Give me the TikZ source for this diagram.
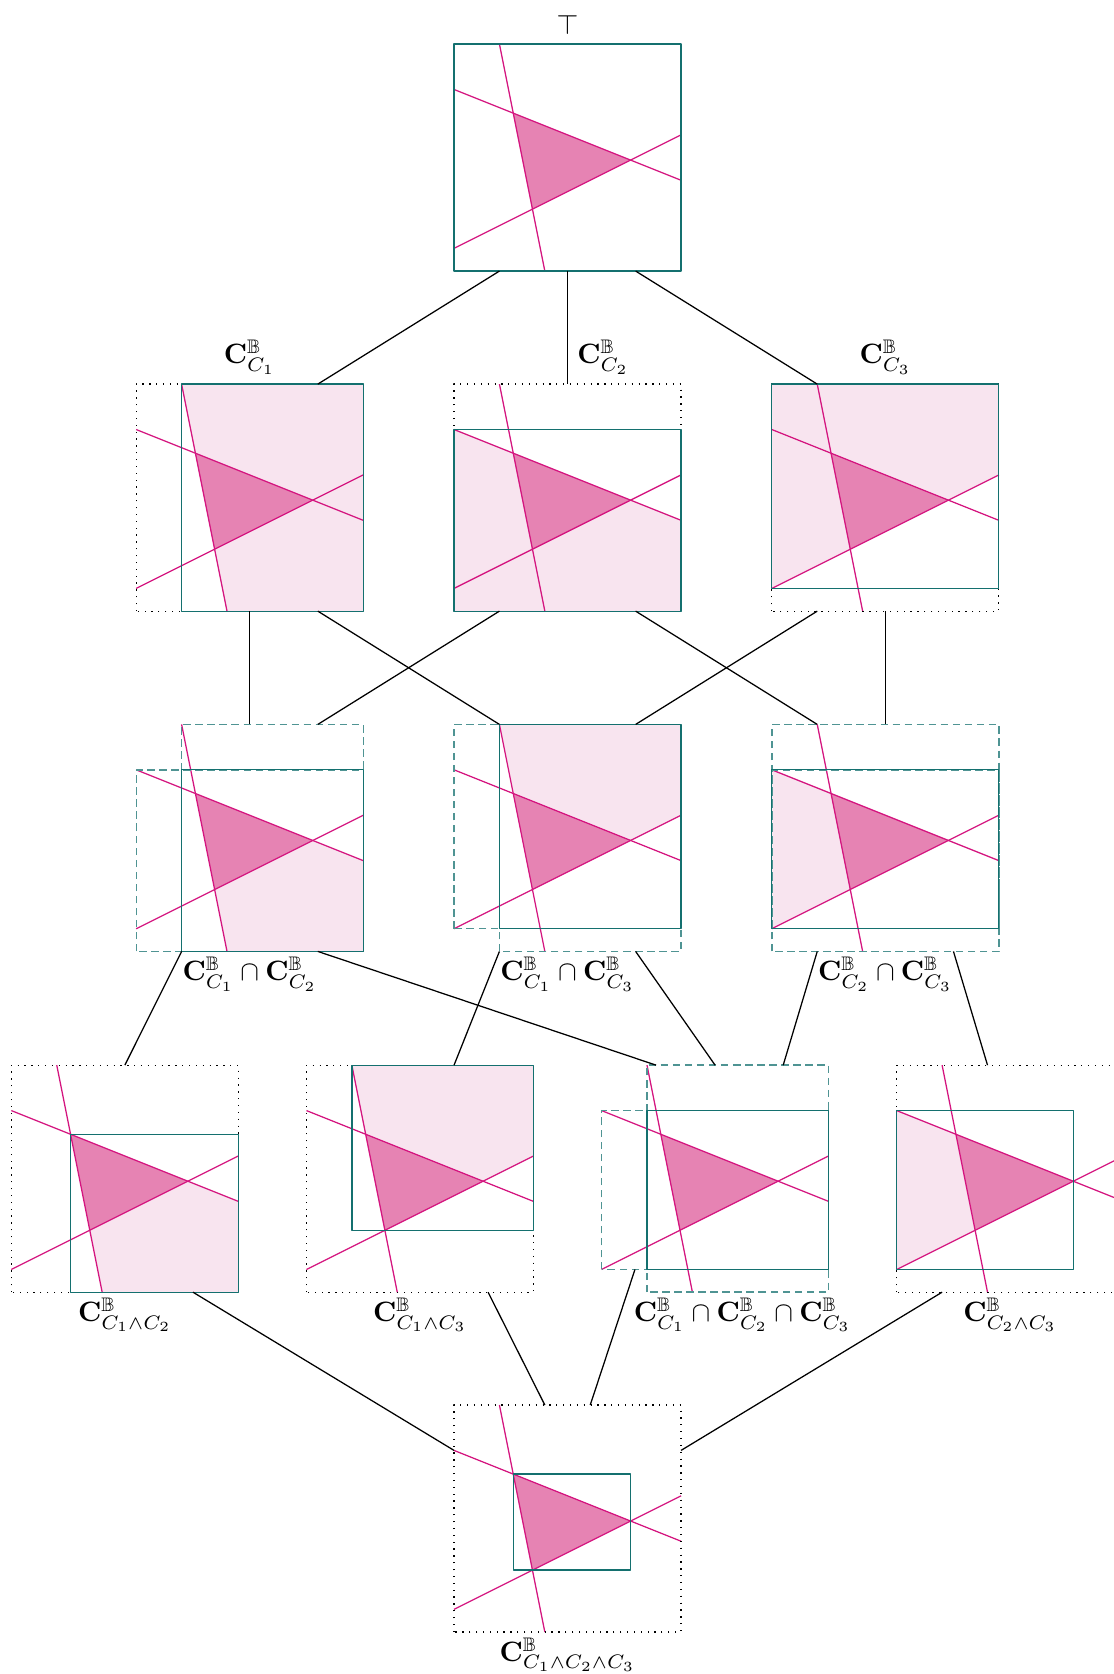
\documentclass[tikz,border=0pt]{standalone}
\usepackage{amsmath,amssymb}
\usepackage{xcolor}
\usepackage{tikz}
\usetikzlibrary{calc}
\definecolor{cutln}{HTML}{D4157F}
\definecolor{boxln}{HTML}{14706F}
\definecolor{trifill}{HTML}{E683B3}
\definecolor{halffill}{HTML}{F8E4EF}
\newcommand{\CB}[1]{\mathbf{C}^{\mathbb{B}}_{#1}}
% the three constraint lines and the triangle they cut out (unit square)
\newcommand{\cutlines}{%
  \draw[cutline] (0.2,1)--(0.4,0);
  \draw[cutline] (0,0.8)--(1,0.4);
  \draw[cutline] (0,0.1)--(1,0.6);}
\newcommand{\darktri}{\fill[trifill] (0.2609,0.6957)--(0.7778,0.4889)--(0.3455,0.2727)--cycle;}

\begin{document}
\begin{tikzpicture}[x=2.85cm, y=2.85cm, line join=round,
  panel/.style={minimum size=2.85cm, inner sep=0pt, outer sep=0pt},
  cutline/.style={cutln, line width=0.45pt},
  hullbox/.style={boxln, line width=0.45pt},
  dashbox/.style={boxln!75, dash pattern=on 2.7pt off 1.6pt, line width=0.5pt},
  fullbox/.style={black, dotted, line width=0.45pt},
  link/.style={black, line width=0.45pt},
  lbl/.style={font=\normalsize},
  lblb/.style={font=\normalsize, below, inner sep=1.8pt}]
  \useasboundingbox (0,0) rectangle (4.903,-7.374);

  % level 0: the whole box
  \node[panel] (T) at (2.5,-0.694) {};
  \begin{scope}[shift={(T.south west)}]
    \darktri \cutlines
    \draw[hullbox] (0,0) rectangle (1,1);
  \end{scope}
  \node[lbl, above] (lT) at (T.north) {$\top$};

  % level 1: one constraint each
  \node[panel] (c1) at (1.1,-2.192) {};
  \begin{scope}[shift={(c1.south west)}]
    \fill[halffill] (0.2,1)--(1,1)--(1,0)--(0.4,0)--cycle;
    \darktri \cutlines
    \draw[fullbox] (0,0) rectangle (1,1);
    \draw[hullbox] (0.2,0) rectangle (1,1);
  \end{scope}
  \node[panel] (c2) at (2.5,-2.192) {};
  \begin{scope}[shift={(c2.south west)}]
    \fill[halffill] (0,0)--(0,0.8)--(1,0.4)--(1,0)--cycle;
    \darktri \cutlines
    \draw[fullbox] (0,0) rectangle (1,1);
    \draw[hullbox] (0,0) rectangle (1,0.8);
  \end{scope}
  \node[panel] (c3) at (3.9,-2.192) {};
  \begin{scope}[shift={(c3.south west)}]
    \fill[halffill] (0,0.1)--(0,1)--(1,1)--(1,0.6)--cycle;
    \darktri \cutlines
    \draw[fullbox] (0,0) rectangle (1,1);
    \draw[hullbox] (0,0.1) rectangle (1,1);
  \end{scope}
  \node[lbl, above] (lc1) at (c1.north) {$\CB{C_1}$};
  \node[lbl, above right] (lc2) at (c2.north) {$\CB{C_2}$};
  \node[lbl, above] (lc3) at (c3.north) {$\CB{C_3}$};

  % level 2: meets of two boxes
  \node[panel] (c12) at (1.1,-3.691) {};
  \begin{scope}[shift={(c12.south west)}]
    \fill[halffill] (0.2609,0.6957)--(1,0.4)--(1,0)--(0.4,0)--cycle;
    \darktri \cutlines
    \draw[dashbox] (0.2,0) rectangle (1,1);
    \draw[dashbox] (0,0) rectangle (1,0.8);
    \draw[hullbox] (0.2,0) rectangle (1,0.8);
  \end{scope}
  \node[panel] (c13) at (2.5,-3.691) {};
  \begin{scope}[shift={(c13.south west)}]
    \fill[halffill] (0.2,1)--(1,1)--(1,0.6)--(0.3455,0.2727)--cycle;
    \darktri \cutlines
    \draw[dashbox] (0.2,0) rectangle (1,1);
    \draw[dashbox] (0,0.1) rectangle (1,1);
    \draw[hullbox] (0.2,0.1) rectangle (1,1);
  \end{scope}
  \node[panel] (c23) at (3.9,-3.691) {};
  \begin{scope}[shift={(c23.south west)}]
    \fill[halffill] (0,0.8)--(0.7778,0.4889)--(0,0.1)--cycle;
    \darktri \cutlines
    \draw[dashbox] (0,0) rectangle (1,0.8);
    \draw[dashbox] (0,0.1) rectangle (1,1);
    \draw[hullbox] (0,0.1) rectangle (1,0.8);
  \end{scope}
  \node[lblb] (lc12) at (c12.south) {$\CB{C_1}\cap\CB{C_2}$};
  \node[lblb] (lc13) at (c13.south) {$\CB{C_1}\cap\CB{C_3}$};
  \node[lblb] (lc23) at (c23.south) {$\CB{C_2}\cap\CB{C_3}$};

  % level 3: hulls of conjunctions
  \node[panel] (d12) at (0.55,-5.192) {};
  \begin{scope}[shift={(d12.south west)}]
    \fill[halffill] (0.2609,0.6957)--(1,0.4)--(1,0)--(0.4,0)--cycle;
    \darktri \cutlines
    \draw[fullbox] (0,0) rectangle (1,1);
    \draw[hullbox] (0.2609,0) rectangle (1,0.6957);
  \end{scope}
  \node[panel] (d13) at (1.85,-5.192) {};
  \begin{scope}[shift={(d13.south west)}]
    \fill[halffill] (0.2,1)--(1,1)--(1,0.6)--(0.3455,0.2727)--cycle;
    \darktri \cutlines
    \draw[fullbox] (0,0) rectangle (1,1);
    \draw[hullbox] (0.2,0.2727) rectangle (1,1);
  \end{scope}
  \node[panel] (d123) at (3.15,-5.192) {};
  \begin{scope}[shift={(d123.south west)}]
    \darktri \cutlines
    \draw[dashbox] (0.2,0) rectangle (1,1);
    \draw[dashbox] (0,0.1) rectangle (1,0.8);
    \draw[hullbox] (0.2,0.1) rectangle (1,0.8);
  \end{scope}
  \node[panel] (d23) at (4.45,-5.192) {};
  \begin{scope}[shift={(d23.south west)}]
    \fill[halffill] (0,0.8)--(0.7778,0.4889)--(0,0.1)--cycle;
    \darktri \cutlines
    \draw[fullbox] (0,0) rectangle (1,1);
    \draw[hullbox] (0,0.1) rectangle (0.7778,0.8);
  \end{scope}
  \node[lblb] (ld12) at (d12.south) {$\CB{C_1\wedge C_2}$};
  \node[lblb] (ld13) at (d13.south) {$\CB{C_1\wedge C_3}$};
  \node[lblb] (ld123) at ($(d123.south west)+(.62,0)$) {$\CB{C_1}\cap\CB{C_2}\cap\CB{C_3}$};
  \node[lblb] (ld23) at (d23.south) {$\CB{C_2\wedge C_3}$};

  % level 4: hull of all three
  \node[panel] (bot) at (2.5,-6.689) {};
  \begin{scope}[shift={(bot.south west)}]
    \darktri \cutlines
    \draw[fullbox] (0,0) rectangle (1,1);
    \draw[hullbox] (0.2609,0.2727) rectangle (0.7778,0.6957);
  \end{scope}
  \node[lblb] (lbot) at (bot.south) {$\CB{C_1\wedge C_2\wedge C_3}$};

  % order links
  \draw[link] ($(T.south west)+(.2,0)$) -- ($(c1.north west)+(.8,0)$);
  \draw[link] (T.south) -- (c2.north);
  \draw[link] ($(T.south west)+(.8,0)$) -- ($(c3.north west)+(.2,0)$);
  \draw[link] (c1.south) -- (c12.north);
  \draw[link] ($(c2.south west)+(.2,0)$) -- ($(c12.north west)+(.8,0)$);
  \draw[link] ($(c1.south west)+(.8,0)$) -- ($(c13.north west)+(.2,0)$);
  \draw[link] ($(c3.south west)+(.2,0)$) -- ($(c13.north west)+(.8,0)$);
  \draw[link] ($(c2.south west)+(.8,0)$) -- ($(c23.north west)+(.2,0)$);
  \draw[link] (c3.south) -- (c23.north);
  \draw[link] ($(c12.south west)+(.2,0)$) -- (d12.north);
  \draw[link] ($(c12.south west)+(.8,0)$) -- ($(d123.north west)+(.24,0)$);
  \draw[link] ($(c13.south west)+(.2,0)$) -- ($(d13.north west)+(.65,0)$);
  \draw[link] ($(c13.south west)+(.8,0)$) -- (d123.north);
  \draw[link] ($(c23.south west)+(.2,0)$) -- ($(d123.north west)+(.8,0)$);
  \draw[link] ($(c23.south west)+(.8,0)$) -- ($(d23.north west)+(.4,0)$);
  \draw[link] ($(d12.south west)+(.8,0)$) -- ($(bot.south west)+(0,.8)$);
  \draw[link] ($(d13.south west)+(.8,0)$) -- ($(bot.north west)+(.4,0)$);
  \draw[link] ($(d123.south west)+(.147,.1)$) -- ($(bot.north west)+(.6,0)$);
  \draw[link] ($(d23.south west)+(.2,0)$) -- ($(bot.south east)+(0,.8)$);
\end{tikzpicture}
\end{document}
